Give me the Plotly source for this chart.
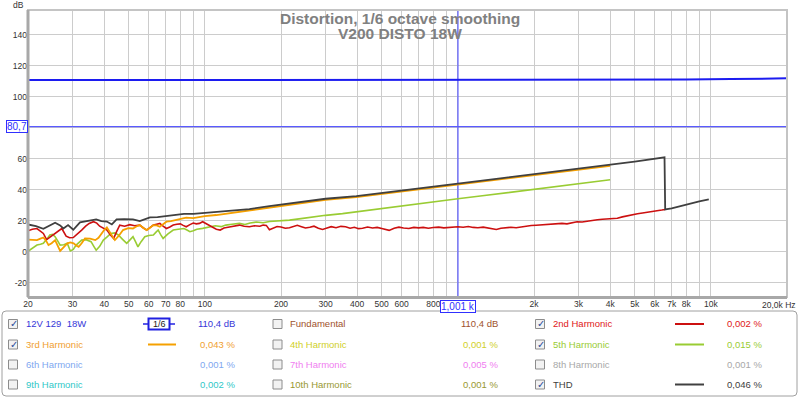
import math
import plotly.graph_objects as go

# ---------------- data ----------------
level_freq = [20, 100, 1000, 3000, 5000, 8000, 12000, 16000, 20000]
level_db = [110.8, 110.8, 110.8, 110.8, 110.9, 111.1, 111.4, 111.7, 111.9]

thd_freq = [20, 20.5, 21.5, 23, 24, 25.6, 26.8, 27.6, 28.8, 30.2, 32.1, 34.9, 37.2, 39, 41, 42.9,
            44.8, 48, 52, 55.3, 58, 60.7, 65, 70.5, 76, 82.7, 90, 95, 100, 111, 130, 150, 180, 216,
            260, 300, 397, 500, 700, 1000, 1500, 2000, 3000, 4000, 5000, 6560, 6600, 7000, 8000,
            9000, 9816]
thd_db = [17.6, 17.2, 16.5, 14.8, 16.5, 18.7, 17.0, 15.0, 17.2, 14.2, 19.0, 20.0, 20.9, 19.8, 19.5,
          17.6, 20.9, 21.0, 20.9, 19.8, 21.0, 22.2, 22.3, 23.0, 23.5, 24.5, 24.5, 24.8, 25.0, 25.6,
          26.5, 27.5, 29.5, 31.2, 33.0, 34.2, 35.9, 38.0, 41.0, 43.9, 47.5, 50.0, 53.5, 55.9, 58.2,
          60.9, 27.3, 28.0, 30.5, 32.5, 33.8]

h2_freq = [20, 20.8, 21.7, 22.4, 23.0, 23.7, 24.5, 25.6, 26.4, 27.2, 28.3, 29.2, 30.2, 31.4, 32.6,
           33.8, 34.9, 36.3, 37.4, 38.4, 39.7, 41.0, 42.3, 43.6, 44.8, 46.1, 48.2, 50.5, 52.8, 55.3,
           57.0, 58.9, 60.7, 62.6, 64.5, 66.4, 68.4, 70.5, 72.7, 75.0, 77.5, 80.0, 82.1, 84.4, 87.3,
           90.0, 92.5, 95.2, 98.0, 101, 105, 108, 111, 115, 119, 125, 131, 137, 143, 150, 157, 165,
           170, 175, 180, 186, 193, 200, 208, 216, 224, 232, 241, 250, 260, 270, 281, 292, 304, 316,
           330, 345, 360, 375, 390, 405, 420, 440, 460, 480, 505, 535, 560, 585, 610, 640, 670, 700,
           730, 765, 800, 840, 880, 920, 960, 1000, 1050, 1100, 1150, 1200, 1260, 1320, 1380, 1420,
           1480, 1550, 1620, 1700, 1780, 1860, 1950, 2040, 2140, 2240, 2350, 2460, 2580, 2700, 2830,
           2960, 3100, 3250, 3400, 3560, 3730, 3900, 4080, 4270, 4470, 4680, 4900, 5130, 5370, 5620,
           5880, 6160, 6400, 6600]
h2_db = [13.5, 14.5, 15.0, 13.5, 11.8, 7.8, 9.5, 11.8, 13.5, 15.0, 10.0, 9.0, 9.2, 11.5, 14.0,
         16.5, 18.3, 19.4, 18.5, 16.5, 15.0, 14.0, 11.0, 8.6, 13.0, 17.2, 16.5, 17.5, 16.8, 17.2,
         15.5, 14.0, 15.5, 17.2, 17.8, 18.3, 16.5, 15.0, 16.0, 17.2, 17.8, 18.0, 17.0, 16.1, 17.5,
         18.5, 18.0, 18.3, 19.4, 18.2, 17.0, 15.5, 14.5, 14.0, 15.3, 16.0, 16.8, 17.2, 16.4, 16.1,
         16.8, 16.5, 17.2, 17.0, 14.2, 15.2, 16.3, 16.0, 15.2, 15.5, 16.4, 17.1, 16.2, 15.3, 15.8,
         16.5, 15.2, 14.4, 15.3, 16.2, 15.5, 16.4, 16.1, 15.2, 15.8, 14.9, 15.2, 16.0, 15.3, 15.7,
         14.8, 13.8, 15.2, 15.9, 15.3, 15.0, 15.7, 15.4, 15.7, 15.2, 15.6, 15.9, 15.4, 15.8, 16.1,
         16.1, 15.8, 16.3, 15.7, 15.5, 15.9, 15.2, 14.9, 14.4, 15.2, 15.4, 15.8, 15.5, 16.1, 16.6,
         16.9, 17.1, 17.3, 17.5, 17.7, 17.9, 18.3, 18.0, 18.6, 19.3, 19.2, 19.8, 20.5, 20.7, 21.0,
         21.2, 21.4, 21.6, 22.5, 23.3, 24.0, 24.5, 25.0, 25.4, 25.9, 26.4, 26.9, 27.3]

h3_freq = [20, 20.8, 21.7, 22.4, 23.0, 23.6, 24.1, 24.8, 25.6, 26.2, 26.8, 27.7, 28.6, 29.4, 30.3,
           31.0, 31.7, 32.6, 33.6, 35.2, 36.9, 38.0, 39.0, 40.0, 41.0, 42.5, 44.1, 45.8, 47.5, 49.8,
           52.0, 53.6, 55.3, 57.0, 58.9, 60.7, 62.6, 64.5, 66.4, 68.4, 70.5, 73.5, 77.0, 80.5, 84.4,
           90.0, 95.0, 100, 111, 130, 150, 180, 216, 260, 300, 397, 500, 700, 1000, 1500, 2000, 3000,
           4000]
h3_db = [7.8, 7.5, 7.5, 8.5, 9.2, 7.0, 4.3, 5.5, 7.5, 4.0, 0.5, 3.0, 5.4, 6.0, 5.4, 4.0, 3.2, 5.5,
         8.6, 8.5, 7.5, 9.0, 11.8, 14.0, 15.7, 12.0, 7.5, 10.5, 14.0, 15.2, 15.0, 16.3, 17.2, 15.5,
         14.0, 15.5, 17.2, 17.0, 16.1, 17.8, 19.4, 19.8, 20.4, 21.3, 22.0, 21.7, 22.5, 23.0, 23.7,
         25.3, 26.5, 28.7, 30.5, 32.3, 33.5, 35.3, 37.3, 40.4, 43.4, 47.0, 49.4, 52.9, 55.4]

h5_freq = [20, 20.8, 21.7, 22.4, 23.0, 23.7, 24.4, 25.0, 25.6, 26.2, 26.8, 27.7, 28.6, 29.4, 30.2,
           31.0, 31.8, 32.6, 33.9, 35.5, 36.4, 37.2, 38.4, 39.7, 41.0, 42.5, 44.0, 45.5, 47.3, 49.1,
           50.5, 52.0, 53.2, 54.4, 56.0, 57.9, 60.0, 62.6, 64.0, 65.4, 66.9, 68.4, 71.5, 75.0, 78.5,
           82.7, 85.0, 87.3, 90.0, 93.0, 98.0, 104, 110, 116, 121, 128, 137, 144, 151, 160, 170, 180,
           195, 216, 240, 260, 300, 350, 397, 450, 500, 600, 700, 850, 1000, 1250, 1500, 2000, 2500,
           3000, 3500, 4000]
h5_db = [0.3, 2.5, 4.3, 4.8, 5.4, 8.0, 10.8, 11.2, 9.7, 7.0, 4.3, 4.5, 5.4, 0.5, 1.5, 4.3, 6.0, 7.5,
         7.8, 6.5, 3.5, 1.0, 3.5, 7.5, 9.5, 11.8, 12.2, 10.8, 8.0, 5.4, 7.5, 9.7, 6.5, 3.2, 6.5, 9.7,
         10.5, 10.8, 12.5, 14.0, 11.0, 8.6, 11.5, 14.0, 14.5, 15.0, 14.0, 12.9, 13.5, 14.5, 15.1,
         15.8, 16.8, 16.2, 17.2, 17.8, 18.3, 17.6, 18.6, 19.2, 18.7, 19.5, 19.8, 20.4, 21.4, 22.2,
         23.5, 24.6, 25.8, 26.8, 27.8, 29.4, 30.8, 32.6, 34.2, 36.1, 37.7, 40.2, 42.2, 43.9, 45.2,
         46.5]

cursor_freq = 1001
cursor_db = 80.7
cursor_freq_label = "1,001 k"
cursor_db_label = "80,7"

x_grid = [20, 30, 40, 50, 60, 70, 80, 90, 100, 200, 300, 400, 500, 600, 700, 800, 900, 1000,
          2000, 3000, 4000, 5000, 6000, 7000, 8000, 9000, 10000, 20000]
x_labels = ["20", "30", "40", "50", "60", "70", "80", "", "100", "200", "300", "400", "500", "600",
            "", "800", "", "", "2k", "3k", "4k", "5k", "6k", "7k", "8k", "", "10k", ""]
x_end_label = "20,0k Hz"
y_grid = [-20, 0, 20, 40, 60, 80, 100, 120, 140]
y_labels = ["-20", "0", "20", "40", "60", "", "100", "120", "140"]

title_lines = ["Distortion, 1/6 octave smoothing", "V200 DISTO 18W"]

legend_names = ["12V 129  18W", "Fundamental", "2nd Harmonic", "3rd Harmonic", "4th Harmonic",
                "5th Harmonic", "6th Harmonic", "7th Harmonic", "8th Harmonic", "9th Harmonic",
                "10th Harmonic", "THD"]
legend_values = ["110,4 dB", "110,4 dB", "0,002 %", "0,043 %", "0,001 %", "0,015 %", "0,001 %",
                 "0,005 %", "0,001 %", "0,002 %", "0,001 %", "0,046 %"]
legend_checked = [True, False, True, True, False, True, False, False, False, False, False, True]
legend_text_colors = ["#3636d8", "#a0522d", "#e01818", "#f0a030", "#d0d028", "#99cc33", "#80a8f0",
                      "#f080f0", "#a8a8a8", "#30c8c8", "#989830", "#404040"]
smoothing_label = "1/6"

# ---------------- styles ----------------
C_LEVEL = "#1c1cf0"
C_CURSOR = "#5a5aff"
C_THD = "#404040"
C_H2 = "#cc1010"
C_H3 = "#f5a000"
C_H5 = "#99cc33"
FONT = "Liberation Sans, Arial, sans-serif"

W, H = 800, 398
L, R, T, B = 28, 787, 10, 297


def PX(x):
    return (x - L) / (R - L)


def PY(y):
    return (B - y) / (B - T)


def FX(f):
    return (math.log10(f) - math.log10(20)) / 3.0


fig = go.Figure()
fig.add_trace(go.Scatter(x=[20, 20000], y=[cursor_db, cursor_db], mode="lines",
                         line=dict(color=C_CURSOR, width=1.2)))
fig.add_trace(go.Scatter(x=[cursor_freq, cursor_freq], y=[-40, 170], mode="lines",
                         line=dict(color=C_CURSOR, width=1.2)))
fig.add_trace(go.Scatter(x=level_freq, y=level_db, mode="lines", line=dict(color=C_LEVEL, width=2)))
fig.add_trace(go.Scatter(x=h5_freq, y=h5_db, mode="lines", line=dict(color=C_H5, width=1.6)))
fig.add_trace(go.Scatter(x=h2_freq, y=h2_db, mode="lines", line=dict(color=C_H2, width=1.6)))
fig.add_trace(go.Scatter(x=h3_freq, y=h3_db, mode="lines", line=dict(color=C_H3, width=1.8)))
fig.add_trace(go.Scatter(x=thd_freq, y=thd_db, mode="lines", line=dict(color=C_THD, width=1.8)))

shapes = []
annotations = []

# plot frame
shapes.append(dict(type="rect", xref="paper", yref="paper", x0=0, x1=1, y0=0, y1=1,
                   line=dict(color="#c4c4c4", width=2)))
shapes.append(dict(type="line", xref="paper", yref="paper", x0=PX(28), x1=PX(28), y0=0, y1=1,
                   line=dict(color="#a8a8a8", width=3)))
shapes.append(dict(type="line", xref="paper", yref="paper", x0=0, x1=1, y0=PY(297.5), y1=PY(297.5),
                   line=dict(color="#a8a8a8", width=3)))

# titles
annotations.append(dict(text="<b>%s</b>" % title_lines[0], x=PX(400), y=PY(18),
                        xref="paper", yref="paper", showarrow=False, xanchor="center",
                        yanchor="middle", font=dict(family=FONT, size=15.5, color="#808080")))
annotations.append(dict(text="<b>%s</b>" % title_lines[1], x=PX(400), y=PY(33), xref="paper",
                        yref="paper", showarrow=False, xanchor="center", yanchor="middle",
                        font=dict(family=FONT, size=15.5, color="#808080")))
annotations.append(dict(text="dB", x=PX(18.5), y=PY(5), xref="paper", yref="paper",
                        showarrow=False, xanchor="center", yanchor="middle",
                        font=dict(family=FONT, size=8.5, color="#333333")))
annotations.append(dict(text=x_end_label, x=PX(798), y=PY(305), xref="paper", yref="paper",
                        showarrow=False, xanchor="right", yanchor="middle",
                        font=dict(family=FONT, size=8.5, color="#333333")))
# cursor labels
annotations.append(dict(text=cursor_freq_label, x=FX(cursor_freq), y=PY(306), xref="paper",
                        yref="paper", showarrow=False, xanchor="center", yanchor="middle",
                        bordercolor="#3030ff", borderwidth=1, borderpad=0, bgcolor="white",
                        font=dict(family=FONT, size=10, color="#3030ff")))
annotations.append(dict(text=cursor_db_label, x=PX(17.2), y=(cursor_db + 29.2) / 185.2,
                        xref="paper", yref="paper", showarrow=False, xanchor="center",
                        yanchor="middle", bordercolor="#3030ff", borderwidth=1, borderpad=0,
                        bgcolor="white", font=dict(family=FONT, size=10, color="#3030ff")))

# legend box
x0, x1, y0, y1 = PX(2), PX(797), PY(396), PY(311)
rx, ry = 4 / (R - L), 4 / (B - T)
path = (f"M {x0+rx},{y1} L {x1-rx},{y1} Q {x1},{y1} {x1},{y1-ry} L {x1},{y0+ry} "
        f"Q {x1},{y0} {x1-rx},{y0} L {x0+rx},{y0} Q {x0},{y0} {x0},{y0+ry} "
        f"L {x0},{y1-ry} Q {x0},{y1} {x0+rx},{y1} Z")
shapes.append(dict(type="path", xref="paper", yref="paper", path=path,
                   line=dict(color="#a0a0a0", width=1)))

row_y = [324, 344.5, 364.5, 384.5]
col_box = [13, 277.5, 540]
col_text = [24, 288, 551]
col_val = [237, 500, 763.5]
col_line = [(148, 176), None, (675, 704)]
line_colors = [None, None, C_H2, C_H3, None, C_H5, None, None, None, None, None, C_THD]

for i, name in enumerate(legend_names):
    r, c = divmod(i, 3)
    yc = row_y[r]
    bx = col_box[c]
    shapes.append(dict(type="rect", xref="paper", yref="paper", x0=PX(bx - 4.5), x1=PX(bx + 4.5),
                       y0=PY(yc + 4.5), y1=PY(yc - 4.5), fillcolor="#f2f2f2",
                       line=dict(color="#8c8c8c", width=1)))
    if legend_checked[i]:
        annotations.append(dict(text="✓", x=PX(bx + 0.5), y=PY(yc), xref="paper", yref="paper",
                                showarrow=False, xanchor="center", yanchor="middle",
                                font=dict(family="DejaVu Sans", size=10, color="#2a4a9a")))
    annotations.append(dict(text=name, x=PX(col_text[c]), y=PY(yc), xref="paper", yref="paper",
                            showarrow=False, xanchor="left", yanchor="middle",
                            font=dict(family=FONT, size=9.5, color=legend_text_colors[i])))
    annotations.append(dict(text=legend_values[i], x=PX(col_val[c]), y=PY(yc), xref="paper",
                            yref="paper", showarrow=False, xanchor="right", yanchor="middle",
                            font=dict(family=FONT, size=9.5, color=legend_text_colors[i])))
    if line_colors[i] and col_line[c]:
        a, b = col_line[c]
        shapes.append(dict(type="line", xref="paper", yref="paper", x0=PX(a), x1=PX(b),
                           y0=PY(yc), y1=PY(yc), line=dict(color=line_colors[i], width=2)))

# smoothing icon
yc = row_y[0]
shapes.append(dict(type="line", xref="paper", yref="paper", x0=PX(143), x1=PX(175), y0=PY(yc),
                   y1=PY(yc), line=dict(color="#2020e0", width=1.5)))
shapes.append(dict(type="rect", xref="paper", yref="paper", x0=PX(148.5), x1=PX(169.5),
                   y0=PY(yc + 5.5), y1=PY(yc - 5.5), fillcolor="white",
                   line=dict(color="#2020e0", width=2)))
annotations.append(dict(text=smoothing_label, x=PX(159), y=PY(yc), xref="paper", yref="paper",
                        showarrow=False, xanchor="center", yanchor="middle",
                        font=dict(family=FONT, size=9, color="#202020")))

fig.update_layout(
    width=W, height=H, showlegend=False, hovermode=False,
    margin=dict(l=L, r=W - R, t=T, b=H - B, pad=0),
    plot_bgcolor="white", paper_bgcolor="white",
    xaxis=dict(type="log", range=[math.log10(20), math.log10(20000)], tickvals=x_grid,
               ticktext=x_labels, showgrid=True, gridcolor="#cccccc", gridwidth=1,
               zeroline=False, showline=False, ticks="",
               tickfont=dict(family=FONT, size=8.5, color="#333333")),
    yaxis=dict(range=[-29.2, 156], tickvals=y_grid, ticktext=y_labels, showgrid=True,
               gridcolor="#cccccc", gridwidth=1, zeroline=False, showline=False, ticks="",
               tickfont=dict(family=FONT, size=8.5, color="#333333")),
    shapes=shapes, annotations=annotations,
)

fig.write_html("out.html", config={"displayModeBar": False},
               post_script="document.body.style.margin='0';document.body.style.overflow='hidden';")
